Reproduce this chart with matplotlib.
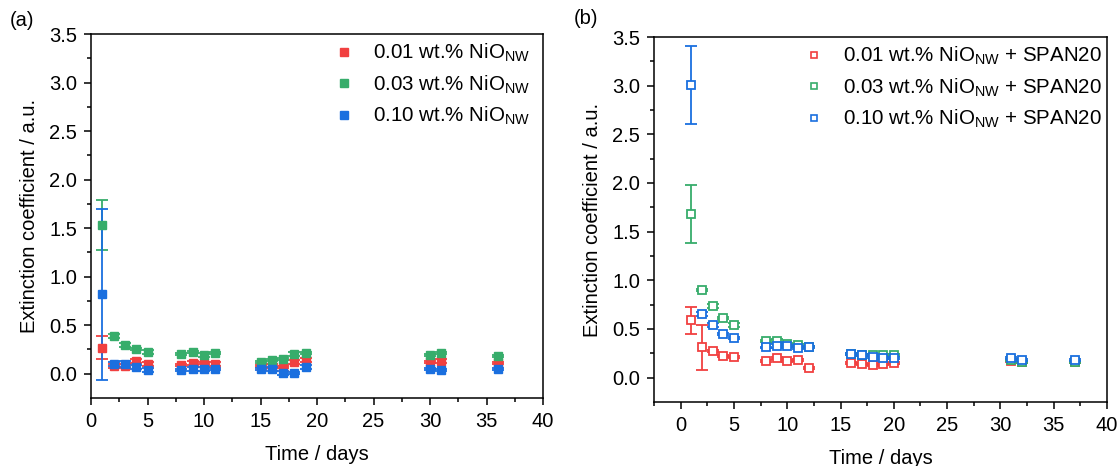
import numpy as np
import matplotlib
matplotlib.use("Agg")
import matplotlib.pyplot as plt
from matplotlib.lines import Line2D

plt.rcParams["font.family"] = ["Liberation Sans", "DejaVu Sans"]
plt.rcParams["mathtext.fontset"] = "custom"
plt.rcParams["mathtext.rm"] = "Liberation Sans"
plt.rcParams["mathtext.it"] = "Liberation Sans"

# colours (Origin-like)
c_red = "#F14040"
c_green = "#37AD6B"
c_blue = "#1A6FDF"

# (a) NiO nanowires only
days_a = [1, 2, 3, 4, 5, 8, 9, 10, 11, 15, 16, 17, 18, 19, 30, 31, 36]
a_001 = [0.27, 0.08, 0.08, 0.13, 0.10, 0.09, 0.11, 0.11, 0.10, 0.08, 0.08, 0.07, 0.12, 0.14, 0.12, 0.13, 0.11]
a_003 = [1.53, 0.39, 0.30, 0.25, 0.22, 0.205, 0.22, 0.19, 0.21, 0.125, 0.14, 0.15, 0.20, 0.21, 0.19, 0.21, 0.18]
a_010 = [0.82, 0.10, 0.10, 0.07, 0.04, 0.04, 0.05, 0.05, 0.05, 0.05, 0.05, 0.01, 0.01, 0.07, 0.05, 0.04, 0.05]
a_001_err = [0.115, 0.02, 0.02, 0.02, 0.02, 0.01, 0.02, 0.01, 0.02, 0.01, 0.02, 0.01, 0.02, 0.02, 0.01, 0.02, 0.01]
a_003_err = [0.26, 0.02, 0.02, 0.01, 0.02, 0.01, 0.01, 0.02, 0.01, 0.01, 0.01, 0.01, 0.02, 0.01, 0.01, 0.01, 0.01]
a_010_err = [0.88, 0.02, 0.03, 0.02, 0.02, 0.01, 0.02, 0.02, 0.01, 0.01, 0.02, 0.02, 0.01, 0.02, 0.01, 0.01, 0.01]

# (b) NiO nanowires + SPAN20
days_b = [1, 2, 3, 4, 5, 8, 9, 10, 11, 12, 16, 17, 18, 19, 20, 31, 32, 37]
b_001 = [0.59, 0.31, 0.27, 0.22, 0.21, 0.17, 0.205, 0.175, 0.18, 0.10, 0.155, 0.14, 0.13, 0.14, 0.155, 0.17, 0.16, 0.16]
b_003 = [1.68, 0.90, 0.735, 0.61, 0.54, 0.38, 0.38, 0.35, 0.34, 0.32, 0.24, 0.23, 0.235, 0.23, 0.235, 0.18, 0.165, 0.165]
b_010 = [3.01, 0.655, 0.545, 0.45, 0.41, 0.31, 0.325, 0.33, 0.305, 0.315, 0.245, 0.235, 0.215, 0.20, 0.20, 0.20, 0.18, 0.185]
b_001_err = [0.14, 0.235, 0.01, 0.01, 0.01, 0.01, 0.01, 0.01, 0.01, 0.01, 0.01, 0.01, 0.01, 0.01, 0.01, 0.01, 0.01, 0.01]
b_003_err = [0.30, 0.01, 0.02, 0.01, 0.02, 0.01, 0.02, 0.01, 0.01, 0.01, 0.01, 0.01, 0.01, 0.01, 0.01, 0.01, 0.01, 0.01]
b_010_err = [0.40, 0.02, 0.02, 0.01, 0.01, 0.01, 0.02, 0.01, 0.01, 0.01, 0.01, 0.01, 0.01, 0.01, 0.01, 0.01, 0.01, 0.01]

labels_a = [r"0.01 wt.% NiO$_{\rm NW}$", r"0.03 wt.% NiO$_{\rm NW}$", r"0.10 wt.% NiO$_{\rm NW}$"]
labels_b = [l + " + SPAN20" for l in labels_a]
colors = [c_red, c_green, c_blue]

fig = plt.figure(figsize=(11.2, 4.66), dpi=100)
ax1 = fig.add_axes([91 / 1120, 68 / 466, 452 / 1120, 364 / 466])
ax2 = fig.add_axes([654 / 1120, 64 / 466, 453 / 1120, 365 / 466])

fs = 14.5

# panel (a), filled squares
for y, e, c in zip([a_001, a_003, a_010], [a_001_err, a_003_err, a_010_err], colors):
    ax1.errorbar(days_a, y, yerr=e, fmt="s", color=c, ms=5.5, mec=c,
                 elinewidth=1.3, capsize=4, capthick=1.3)

# panel (b), open squares
for y, e, c in zip([b_001, b_003, b_010], [b_001_err, b_003_err, b_010_err], colors):
    ax2.errorbar(days_b, y, yerr=e, fmt="s", color=c, ms=6, mfc="white", mec=c,
                 mew=1.3, elinewidth=1.3, capsize=4, capthick=1.3)

for ax, xlo in [(ax1, 0), (ax2, -2.5)]:
    ax.set_xlim(xlo, 40)
    ax.set_ylim(-0.25, 3.5)
    ax.set_xticks(np.arange(0, 41, 5))
    ax.set_xticks(np.arange(2.5 if xlo == 0 else -2.5, 40, 5), minor=True)
    ax.set_yticks(np.arange(0, 3.6, 0.5))
    ax.set_yticks(np.arange(0.25, 3.5, 0.5), minor=True)
    ax.tick_params(which="major", direction="out", length=5, width=1.1, labelsize=fs, pad=5)
    ax.tick_params(which="minor", direction="out", length=3, width=1.1)
    for s in ax.spines.values():
        s.set_linewidth(1.1)
    ax.set_xlabel("Time / days", fontsize=fs, labelpad=10)
    ax.set_ylabel("Extinction coefficient / a.u.", fontsize=fs, labelpad=7)

h_a = [Line2D([], [], ls="none", marker="s", ms=5.5, color=c) for c in colors]
h_b = [Line2D([], [], ls="none", marker="s", ms=4.2, mfc="white", mec=c, mew=1.2) for c in colors]

lfs = 14.75
ax1.legend(h_a, labels_a, loc="upper left", bbox_to_anchor=(0.537, 0.978), frameon=False,
           fontsize=lfs, borderpad=0, borderaxespad=0, handletextpad=0.9,
           labelspacing=0.45, handlelength=1.0)
ax2.legend(h_b, labels_b, loc="upper left", bbox_to_anchor=(0.331, 0.978), frameon=False,
           fontsize=lfs, borderpad=0, borderaxespad=0, handletextpad=0.9,
           labelspacing=0.45, handlelength=1.0)

fig.text(10 / 1120, 1 - 20 / 466, "(a)", fontsize=fs, va="center")
fig.text(574 / 1120, 1 - 18 / 466, "(b)", fontsize=fs, va="center")

fig.savefig("out.png", dpi=100)
